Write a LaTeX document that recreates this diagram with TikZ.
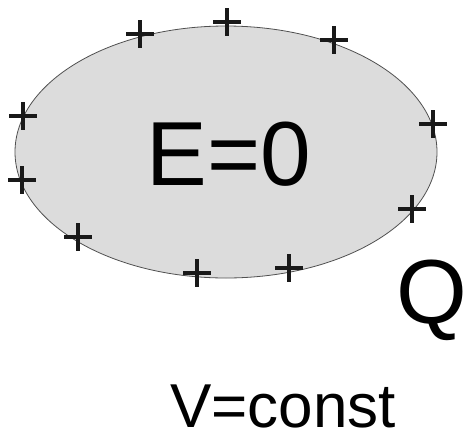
\documentclass[tikz,border=0pt]{standalone}
\usepackage{fontspec}
\setmainfont{Liberation Sans}
\usetikzlibrary{shapes.geometric}
\definecolor{condgrey}{HTML}{DCDCDC}
\definecolor{edgegrey}{HTML}{505050}

\begin{document}
\begin{tikzpicture}[x=1pt,y=-1pt,
  body/.style={ellipse,draw=edgegrey,fill=condgrey,line width=0.8pt,minimum width=422pt,minimum height=252pt,inner sep=0pt},
  charge/.style={line width=4pt,black!90},
  big/.style={font=\fontsize{91}{91}\selectfont,inner sep=0pt},
  mid/.style={font=\fontsize{62}{62}\selectfont,inner sep=0pt}]
  \useasboundingbox (0,0) rectangle (465,434);
  \node[body] (cond) at (226,152) {};
  \node[big,anchor=base] (field) at (229,185) {E=0};
  % charges on the surface
  \foreach \x/\y in {140/34,227/22,334/40,23/116,433/124,22/180,412/209,78/237,197/273,289/268}
    \draw[charge] (\x-14,\y) -- (\x+14,\y) (\x,\y-14) -- (\x,\y+14);
  \node[big,anchor=base west] (total) at (396,323) {Q};
  \node[mid,anchor=base] (pot) at (283,427) {V=const};
\end{tikzpicture}
\end{document}
